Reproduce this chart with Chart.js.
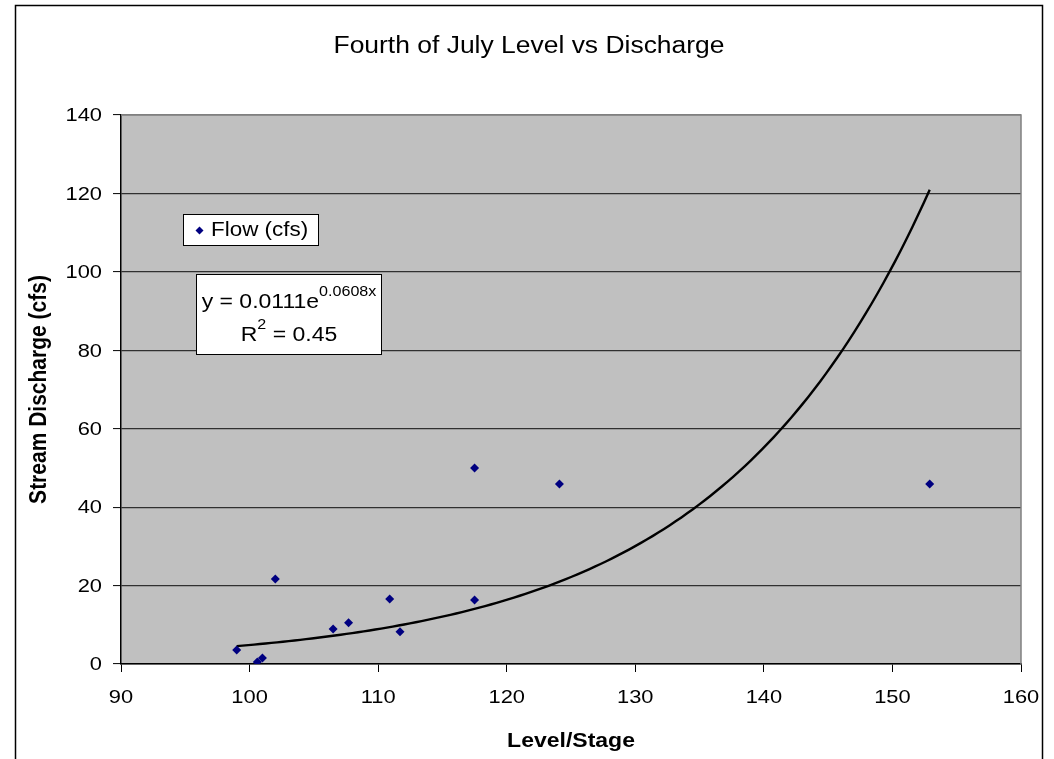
<!DOCTYPE html>
<html>
    <head>
        <title>Fourth of July Level vs Discharge</title>
        <style>
            body
            {
                margin: 0;
                background: #ffffff;
            }

            #chartWrapper
            {
                width: 1054px;
                height: 759px;
            }
        </style>
        <script src="https://cdn.jsdelivr.net/npm/chart.js"></script>
        <script>
            // gauge readings: stage vs measured flow
            const levels = [99.0, 100.6, 101.0, 102.0, 106.5, 107.7, 110.9, 111.7, 117.5, 117.5, 124.1, 152.9];
            const flows = [3.6, 0.5, 1.5, 21.7, 8.9, 10.5, 16.6, 8.2, 50.0, 16.3, 45.9, 45.9];

            // exponential fit  y = a * e^(b x)
            const fitA = 0.0111;
            const fitB = 0.0608;
            const fitR2 = 0.45;

            const xTicks = [90, 100, 110, 120, 130, 140, 150, 160];
            const yTicks = [0, 20, 40, 60, 80, 100, 120, 140];

            const FONT = "'Liberation Sans', Arial, sans-serif";
            const WIDE = 1.15;   // text is drawn a little wide

            function fitCurve()
            {
                let lo = Math.min(...levels);
                let hi = Math.max(...levels);
                let pts = [];
                for (let i = 0; i <= 120; i++)
                {
                    let x = lo + (hi - lo) * i / 120;
                    pts.push({x: x, y: fitA * Math.exp(fitB * x)});
                }
                return pts;
            }

            function wideText(ctx, txt, x, y, size, bold, align)
            {
                ctx.save();
                ctx.translate(x, y);
                ctx.scale(WIDE, 1);
                ctx.font = (bold ? "bold " : "") + size + "px " + FONT;
                ctx.textAlign = align;
                ctx.textBaseline = "middle";
                ctx.fillStyle = "#000000";
                ctx.fillText(txt, 0, 0);
                ctx.restore();
            }

            function textWidth(ctx, txt, size)
            {
                ctx.save();
                ctx.font = size + "px " + FONT;
                let w = ctx.measureText(txt).width * WIDE;
                ctx.restore();
                return w;
            }

            // frame, grey plot area, labels, legend box and equation box
            const decorations = {
                id: "decorations",
                beforeDraw(chart) {
                    const ctx = chart.ctx;
                    const a = chart.chartArea;
                    ctx.save();
                    ctx.fillStyle = "#ffffff";
                    ctx.fillRect(0, 0, chart.width, chart.height);
                    ctx.strokeStyle = "#000000";
                    ctx.lineWidth = 1.5;
                    ctx.strokeRect(15.5, 5.5, 1027, 800);
                    ctx.fillStyle = "#c0c0c0";
                    ctx.fillRect(a.left, a.top, a.right - a.left, a.bottom - a.top);
                    ctx.restore();
                },
                afterDraw(chart) {
                    const ctx = chart.ctx;
                    const a = chart.chartArea;
                    const xs = chart.scales.x;
                    const ys = chart.scales.y;
                    ctx.save();

                    // plot border
                    ctx.strokeStyle = "#808080";
                    ctx.lineWidth = 1.5;
                    ctx.beginPath();
                    ctx.moveTo(a.left, a.top);
                    ctx.lineTo(a.right, a.top);
                    ctx.lineTo(a.right, a.bottom);
                    ctx.stroke();

                    // title and tick labels
                    wideText(ctx, "Fourth of July Level vs Discharge", 529, 47, 23, false, "center");
                    xTicks.forEach(v => wideText(ctx, String(v), xs.getPixelForValue(v), 698, 19, false, "center"));
                    yTicks.forEach(v => wideText(ctx, String(v), 102, ys.getPixelForValue(v) + 1, 19, false, "right"));

                    // axis titles
                    wideText(ctx, "Level/Stage", (a.left + a.right) / 2, 741, 20, true, "center");
                    ctx.save();
                    ctx.translate(39, (a.top + a.bottom) / 2);
                    ctx.rotate(-Math.PI / 2);
                    ctx.scale(1, WIDE);
                    ctx.font = "bold 21px " + FONT;
                    ctx.textAlign = "center";
                    ctx.textBaseline = "middle";
                    ctx.fillStyle = "#000000";
                    ctx.fillText("Stream Discharge (cfs)", 0, 0);
                    ctx.restore();

                    // legend
                    ctx.fillStyle = "#ffffff";
                    ctx.fillRect(183, 214, 135, 31);
                    ctx.strokeStyle = "#000000";
                    ctx.lineWidth = 1;
                    ctx.strokeRect(183.5, 214.5, 135, 31);
                    ctx.fillStyle = "#000080";
                    ctx.beginPath();
                    ctx.moveTo(199.5, 226.5);
                    ctx.lineTo(203.5, 230.5);
                    ctx.lineTo(199.5, 234.5);
                    ctx.lineTo(195.5, 230.5);
                    ctx.closePath();
                    ctx.fill();
                    wideText(ctx, "Flow (cfs)", 211, 231, 19.5, false, "left");

                    // equation
                    ctx.fillStyle = "#ffffff";
                    ctx.fillRect(196, 274, 185, 80);
                    ctx.strokeRect(196.5, 274.5, 185, 80);
                    let eq = "y = " + fitA + "e";
                    let ex = fitB + "x";
                    let w1 = textWidth(ctx, eq, 20);
                    let w2 = textWidth(ctx, ex, 14);
                    let x0 = 289 - (w1 + w2) / 2;
                    wideText(ctx, eq, x0, 302, 20, false, "left");
                    wideText(ctx, ex, x0 + w1, 292, 14, false, "left");

                    let r3 = " = " + fitR2;
                    let wa = textWidth(ctx, "R", 20);
                    let wb = textWidth(ctx, "2", 14);
                    let wc = textWidth(ctx, r3, 20);
                    let rx = 289 - (wa + wb + wc) / 2;
                    wideText(ctx, "R", rx, 335, 20, false, "left");
                    wideText(ctx, "2", rx + wa, 325, 14, false, "left");
                    wideText(ctx, r3, rx + wa + wb, 335, 20, false, "left");
                    ctx.restore();
                }
            };

            function init()
            {
                const chartHTML = document.getElementById("scatterChart");
                new Chart(chartHTML, {
                    type: "scatter",
                    data: {
                        datasets: [
                            {
                                label: "Flow (cfs)",
                                data: levels.map((x, i) => ({x: x, y: flows[i]})),
                                pointStyle: "rectRot",
                                pointRadius: 4.5,
                                backgroundColor: "#000080",
                                borderColor: "#000080",
                                borderWidth: 0,
                                order: 1
                            },
                            {
                                label: "Expon. (Flow (cfs))",
                                type: "line",
                                data: fitCurve(),
                                borderColor: "#000000",
                                borderWidth: 2.4,
                                pointRadius: 0,
                                fill: false,
                                tension: 0,
                                order: 2
                            }
                        ]
                    },
                    options: {
                        responsive: false,
                        animation: false,
                        layout: {
                            padding: {top: 115, left: 0, right: 33, bottom: 0}
                        },
                        plugins: {
                            legend: {display: false},
                            tooltip: {enabled: false},
                            title: {display: false}
                        },
                        scales: {
                            x: {
                                type: "linear",
                                min: 90,
                                max: 160,
                                afterBuildTicks: (s) => { s.ticks = xTicks.map(v => ({value: v})); },
                                afterFit: (s) => { s.height = 95; },
                                ticks: {display: false},
                                grid: {
                                    drawOnChartArea: false,
                                    drawTicks: true,
                                    tickLength: 8,
                                    tickColor: "#000000",
                                    tickWidth: 1
                                },
                                border: {color: "#000000", width: 1.5}
                            },
                            y: {
                                type: "linear",
                                min: 0,
                                max: 140,
                                afterBuildTicks: (s) => { s.ticks = yTicks.map(v => ({value: v})); },
                                afterFit: (s) => { s.width = 121; },
                                ticks: {display: false},
                                grid: {
                                    color: (c) => c.tick && c.tick.value === 140 ? "#808080" : "#303030",
                                    lineWidth: 1.2,
                                    drawTicks: true,
                                    tickLength: 8,
                                    tickColor: "#000000",
                                    tickWidth: 1
                                },
                                border: {color: "#000000", width: 1.5}
                            }
                        }
                    },
                    plugins: [decorations]
                });
            }
        </script>
    </head>
    <body onload="init();">
        <div id="chartWrapper">
            <canvas id="scatterChart" width="1054" height="759"></canvas>
        </div>
    </body>
</html>
